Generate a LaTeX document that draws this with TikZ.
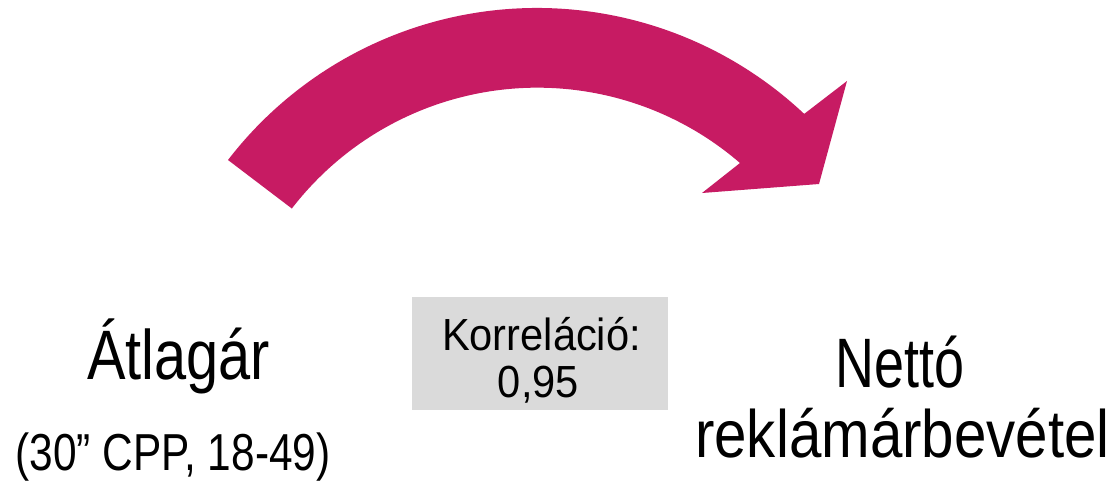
\documentclass[tikz,border=0pt]{standalone}
\usepackage{fontspec}
\newfontfamily\labatl[FakeStretch=0.825]{Liberation Sans}
\newfontfamily\labnet[FakeStretch=0.77]{Liberation Sans}
\newfontfamily\labrek[FakeStretch=0.87]{Liberation Sans}
\newfontfamily\labsub[FakeStretch=0.815]{Liberation Sans}
\newfontfamily\labbox[FakeStretch=0.925]{Liberation Sans}
\definecolor{arrowcol}{RGB}{199,27,99}
\definecolor{boxgray}{RGB}{218,218,218}
\begin{document}
\begin{tikzpicture}[x=1pt,y=1pt,
  lbl/.style={inner sep=0pt, anchor=base},
  atltext/.style={lbl, font=\labatl\fontsize{70}{72}\selectfont},
  nettext/.style={lbl, font=\labnet\fontsize{70}{72}\selectfont},
  rektext/.style={lbl, font=\labrek\fontsize{67}{69}\selectfont},
  subtext/.style={lbl, font=\labsub\fontsize{52}{54}\selectfont},
  boxtext/.style={lbl, font=\labbox\fontsize{45}{47}\selectfont}]
\useasboundingbox (0,0) rectangle (1116,483);
% curved arrow
\fill[arrowcol] (228,323) arc[start angle=142.4, end angle=46.75, radius=390]
  -- (847,402) -- (819,299) -- (702,290) -- (740,320)
  arc[start angle=49.2, end angle=142.4, radius=310] -- cycle;
% correlation box
\node[fill=boxgray, minimum width=256pt, minimum height=113pt, inner sep=0pt] (box) at (540,129.5) {};
\node[boxtext] (korr) at (541.5,133) {Korreláció:};
\node[boxtext] (val) at (538.5,86) {0,95};
% left labels
\node[atltext] (atl) at (178.5,104) {Átlagár};
\node[subtext] (cpp) at (173,13) {(30” CPP, 18-49)};
% right labels
\node[nettext] (netto) at (900,96) {Nettó};
\node[rektext] (rekl) at (902.5,26) {reklámárbevétel};
\end{tikzpicture}
\end{document}
